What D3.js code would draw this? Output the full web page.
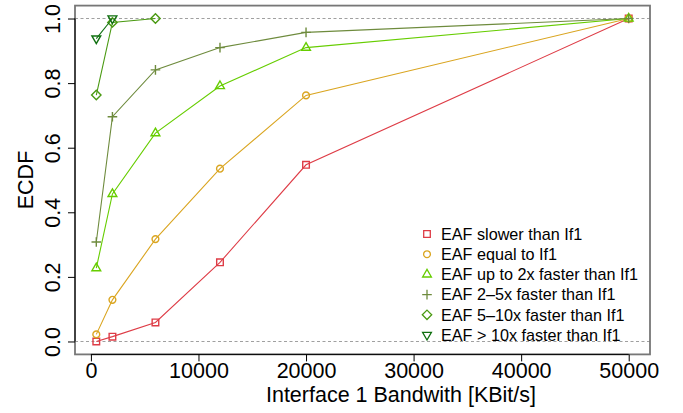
<!DOCTYPE html>
<html>
<head>
<meta charset="utf-8">
<script src="https://cdn.jsdelivr.net/npm/d3@7"></script>
<style>
  html, body { margin: 0; padding: 0; background: #fff; }
  svg { display: block; font-family: "Liberation Sans", Arial, Helvetica, sans-serif; }
</style>
</head>
<body>
<svg id="chart" width="683" height="413"></svg>
<script>
// ---- data ----
const bandwidth = [500, 2000, 6000, 12000, 20000, 50000];
const seriesNames = [
  "EAF slower than If1",
  "EAF equal to If1",
  "EAF up to 2x faster than If1",
  "EAF 2\u20135x faster than If1",
  "EAF 5\u201310x faster than If1",
  "EAF > 10x faster than If1"
];
const slower   = [0.0, 0.015, 0.059, 0.245, 0.547, 1.0];
const equal    = [0.022, 0.129, 0.317, 0.535, 0.762, 1.0];
const upTo2x   = [0.227, 0.457, 0.645, 0.791, 0.910, 1.0];
const x2to5    = [0.308, 0.696, 0.841, 0.910, 0.957, 1.0];
const x5to10   = [0.763, 0.988, 1.0];
const over10x  = [0.938, 1.0];
const xTicks = [0, 10000, 20000, 30000, 40000, 50000];
const yTicks = [0, 0.2, 0.4, 0.6, 0.8, 1.0];
const refLines = [0, 1];

const colors = ["#DE3C46", "#DAA520", "#66CD00", "#6E8B3D", "#4A9A12", "#107010"];
const shapes = ["square", "circle", "triUp", "plus", "diamond", "triDown"];
const allValues = [slower, equal, upTo2x, x2to5, x5to10, over10x];

const series = seriesNames.map((name, i) => ({
  name, color: colors[i], shape: shapes[i],
  points: allValues[i].map((v, j) => ({x: bandwidth[j], y: v}))
}));

// ---- layout ----
const L = 75, R = 650, T = 5.6, B = 354.4;
const svg = d3.select("#chart");

const xs = d3.scaleLinear().domain([500 - 0.04 * 49500, 50000 + 0.04 * 49500]).range([L, R]);
const ys = d3.scaleLinear().domain([-0.04, 1.04]).range([B, T]);

function symbolPath(shape) {
  switch (shape) {
    case "square": return "M-3.3,-3.3H3.3V3.3H-3.3Z";
    case "circle": return "M3.4,0A3.4,3.4 0 1,1 -3.4,0A3.4,3.4 0 1,1 3.4,0Z";
    case "triUp": return "M0,-5L4.4,2.6H-4.4Z";
    case "triDown": return "M0,5L4.4,-2.6H-4.4Z";
    case "plus": return "M-4.8,0H4.8M0,-4.8V4.8";
    case "diamond": return "M0,-4.7L4.7,0L0,4.7L-4.7,0Z";
  }
}

// reference dashed lines
svg.append("g").selectAll("line").data(refLines).join("line")
  .attr("x1", L).attr("x2", R)
  .attr("y1", d => ys(d)).attr("y2", d => ys(d))
  .attr("stroke", "#a0a0a0").attr("stroke-width", 1.1)
  .attr("stroke-dasharray", "3,2.5");

// series
const line = d3.line().x(d => xs(d.x)).y(d => ys(d.y));
const gS = svg.append("g");
series.forEach(s => {
  gS.append("path").datum(s.points)
    .attr("d", line).attr("fill", "none")
    .attr("stroke", s.color).attr("stroke-width", 1.1);
  gS.append("g").selectAll("path").data(s.points).join("path")
    .attr("transform", d => `translate(${xs(d.x)},${ys(d.y)})`)
    .attr("d", symbolPath(s.shape))
    .attr("fill", "none").attr("stroke", s.color).attr("stroke-width", 1.4);
});

// box
svg.append("rect").attr("x", L).attr("y", T).attr("width", R - L).attr("height", B - T)
  .attr("fill", "none").attr("stroke", "#777").attr("stroke-width", 1.8);

// axes
const FS = 21.5;
const xAxis = d3.axisBottom(xs).tickValues(xTicks).tickFormat(d3.format("d")).tickSize(7);
const gx = svg.append("g").attr("transform", `translate(0,${B})`).call(xAxis);
gx.select(".domain").attr("d", `M${xs(xTicks[0])},0H${xs(xTicks[xTicks.length - 1])}`).attr("stroke", "#000");
gx.selectAll(".tick line").attr("stroke", "#000");
gx.selectAll(".tick text").attr("font-size", FS).attr("fill", "#000")
  .attr("font-family", "'Liberation Sans', Arial, sans-serif")
  .attr("y", 378 - B).attr("dy", null);

const yAxis = d3.axisLeft(ys).tickValues(yTicks).tickFormat(d3.format(".1f")).tickSize(7);
const gy = svg.append("g").attr("transform", `translate(${L},0)`).call(yAxis);
gy.select(".domain").attr("d", `M0,${ys(yTicks[0])}V${ys(yTicks[yTicks.length - 1])}`).attr("stroke", "#000");
gy.selectAll(".tick line").attr("stroke", "#000");
gy.selectAll(".tick text")
  .attr("font-size", FS).attr("fill", "#000")
  .attr("font-family", "'Liberation Sans', Arial, sans-serif")
  .attr("x", null).attr("dy", null)
  .attr("text-anchor", "middle")
  .attr("transform", `translate(${59.5 - L},0) rotate(-90)`);

// axis titles
svg.append("text").attr("x", 401).attr("y", 402)
  .attr("text-anchor", "middle").attr("font-size", FS).attr("fill", "#000")
  .text("Interface 1 Bandwith [KBit/s]");
svg.append("text").attr("transform", `translate(33,${(T + B) / 2}) rotate(-90)`)
  .attr("text-anchor", "middle").attr("font-size", FS).attr("fill", "#000")
  .text("ECDF");

// legend
const leg = svg.append("g");
series.forEach((s, i) => {
  const y = 234 + 20.2 * i;
  leg.append("path").attr("transform", `translate(427,${y})`)
    .attr("d", symbolPath(s.shape)).attr("fill", "none")
    .attr("stroke", s.color).attr("stroke-width", 1.3);
  leg.append("text").attr("x", 441).attr("y", y).attr("dy", "0.36em")
    .attr("font-size", 16.2).attr("fill", "#000").text(s.name);
});
</script>
</body>
</html>
